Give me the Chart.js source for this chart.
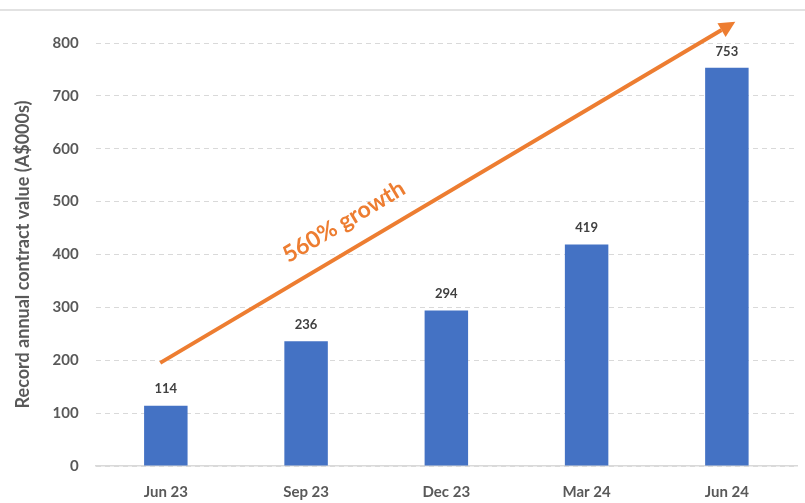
<!DOCTYPE html>
<html><head><meta charset="utf-8">
<script src="https://cdn.jsdelivr.net/npm/chart.js@4"></script>
<style>html,body{margin:0;padding:0;background:#fff}#wrap{width:805px;height:503px}</style>
</head><body><div id="wrap"><canvas id="c" width="805" height="503"></canvas></div>
<script>
const categories = ['Jun 23','Sep 23','Dec 23','Mar 24','Jun 24'];
const values = [114, 236, 294, 419, 753];
const yTicks = [0,100,200,300,400,500,600,700,800];
const arrowStart = [-0.04, 195];
const arrowEnd = [4.06, 840];
const arrowLabel = '560% growth';
const arrowLabelPos = [1.27, 462];

const FONT = 'Lato, "Open Sans", sans-serif';

const overlay = {
  id: 'overlay',
  afterDatasetsDraw(chart) {
    const ctx = chart.ctx, xs = chart.scales.x, ys = chart.scales.y;
    ctx.save();
    ctx.strokeStyle = '#d9d9d9'; ctx.lineWidth = 1.5;
    ctx.beginPath(); ctx.moveTo(0, 10); ctx.lineTo(805, 10); ctx.stroke();
    ctx.fillStyle = '#404040';
    ctx.font = 'bold 13px ' + FONT;
    ctx.textAlign = 'center'; ctx.textBaseline = 'bottom';
    const meta = chart.getDatasetMeta(0);
    meta.data.forEach((b, i) => ctx.fillText(String(values[i]), b.x, b.y - 10));
    const x1 = xs.getPixelForValue(arrowStart[0]), y1 = ys.getPixelForValue(arrowStart[1]);
    const x2 = xs.getPixelForValue(arrowEnd[0]), y2 = ys.getPixelForValue(arrowEnd[1]);
    const ang = Math.atan2(y2 - y1, x2 - x1);
    const head = 16, hw = 8;
    const bx = x2 - head * Math.cos(ang), by = y2 - head * Math.sin(ang);
    ctx.strokeStyle = '#ED7D31'; ctx.fillStyle = '#ED7D31'; ctx.lineWidth = 4;
    ctx.beginPath(); ctx.moveTo(x1, y1); ctx.lineTo(bx, by); ctx.stroke();
    ctx.beginPath();
    ctx.moveTo(x2, y2);
    ctx.lineTo(bx + hw * Math.sin(ang), by - hw * Math.cos(ang));
    ctx.lineTo(bx - hw * Math.sin(ang), by + hw * Math.cos(ang));
    ctx.closePath(); ctx.fill();
    const lx = xs.getPixelForValue(arrowLabelPos[0]), ly = ys.getPixelForValue(arrowLabelPos[1]);
    ctx.translate(lx, ly); ctx.rotate(ang);
    ctx.font = 'bold 23px ' + FONT;
    ctx.textAlign = 'center'; ctx.textBaseline = 'middle';
    ctx.fillText(arrowLabel, 0, 0);
    ctx.restore();
  }
};

new Chart(document.getElementById('c'), {
  type: 'bar',
  data: { labels: categories, datasets: [{ data: values, backgroundColor: '#4472C4', barPercentage: 0.31, categoryPercentage: 1 }] },
  options: {
    responsive: false, animation: false,
    layout: { padding: { top: 43, right: 8, left: 8, bottom: -15 } },
    plugins: { legend: { display: false }, tooltip: { enabled: false } },
    scales: {
      x: {
        grid: { display: false, drawTicks: false },
        border: { display: true, color: '#d9d9d9', width: 1.5 },
        ticks: { color: '#595959', font: { family: FONT, size: 15, weight: 'bold' }, padding: 17 }
      },
      y: {
        min: 0, max: 800,
        afterBuildTicks: (s) => { s.ticks = yTicks.map(v => ({ value: v })); },
        grid: { color: '#d9d9d9', drawTicks: false, lineWidth: 1 },
        border: { display: false, dash: [5, 4] },
        ticks: { color: '#595959', font: { family: FONT, size: 15, weight: 'bold' }, padding: 17 },
        title: { display: true, text: 'Record annual contract value (A$000s)', color: '#595959', font: { family: FONT, size: 18, weight: 'bold' }, padding: { top: 4, bottom: 2 } }
      }
    }
  },
  plugins: [overlay]
});
</script></body></html>
